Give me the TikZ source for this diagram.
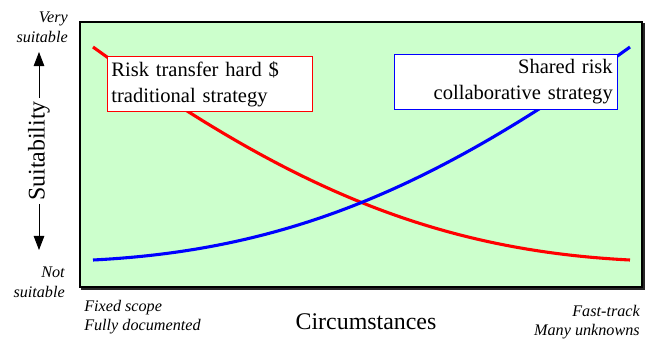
\documentclass[tikz,border=0pt]{standalone}
\usepackage{fontspec}
\setmainfont{Liberation Serif}
\usetikzlibrary{arrows.meta}
\definecolor{plotgreen}{RGB}{204,255,204}

\tikzset{
    axislabel/.style={font=\fontsize{17}{20}\selectfont},
    endlabel/.style={font=\fontsize{11.5}{14}\selectfont\itshape, inner sep=0pt},
    keybox/.style={draw, fill=white, line width=0.6pt, inner xsep=3pt, font=\fontsize{14.6}{18.4}\selectfont},
    curve/.style={line width=2.2pt},
    updown/.style={-{Triangle[length=10pt,width=7.5pt]}, line width=0.6pt, black},
}

\begin{document}
\begin{tikzpicture}[x=0.025cm, y=-0.025cm]
        \useasboundingbox (0,0) rectangle (656,340);

        % Plot area
        \draw[black!85, line width=1.6pt] (82,24) rectangle (644,289);
        \draw[fill=plotgreen, line width=1.6pt] (80,22) rectangle (642,287);

        % Curves
        \draw[curve, red] (93,47) .. controls (286,186) and (433,250) .. (630,260);
        \draw[curve, blue] (93,260) .. controls (290,250) and (437,186) .. (630,47);

        % Left box
        \node[keybox, draw=red, text width=4.93cm, minimum height=1.35cm, align=left] (riskbox) at (210,84) {
            Risk transfer hard \$\\
            traditional strategy
        };

        % Right box
        \node[keybox, draw=blue, text width=5.36cm, minimum height=1.375cm, align=right] (sharedbox) at (505.5,81.5) {
            Shared risk\\
            collaborative strategy
        };

        % Vertical axis
        \node[endlabel, anchor=east, align=right] (verysuit) at (68,27) {Very\\suitable};
        \node[endlabel, anchor=east, align=right] (notsuit) at (65,282) {Not\\suitable};
        \node[axislabel, rotate=90, inner sep=2pt] (suit) at (39,151) {Suitability};
        \coordinate (suittop) at (39,52);
        \coordinate (suitbot) at (39,250);
        \draw[updown] (suit.east) -- (suittop);
        \draw[updown] (suit.west) -- (suitbot);

        % Horizontal axis
        \node[endlabel, anchor=west, align=left] (fixedscope) at (84,317) {Fixed scope\\Fully documented};
        \node[endlabel, anchor=east, align=right] (fasttrack) at (640,322) {Fast-track\\Many unknowns};
        \node[axislabel] (circ) at (366,322) {Circumstances};

\end{tikzpicture}
\end{document}
